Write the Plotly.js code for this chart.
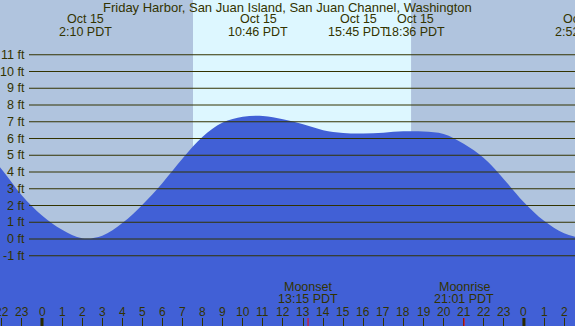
<!DOCTYPE html>
<html>
<head>
<meta charset="utf-8">
<script src="https://cdn.plot.ly/plotly-3.0.1.min.js"></script>
<style>html,body{margin:0;padding:0;background:#B0C4DE;}#chart{width:575px;height:326px;}</style>
</head>
<body>
<div id="chart"></div>
<script>
// ---- data ----
const hours = [-3,-2,-1,0,1,2,3,4,5,6,7,8,9,10,11,12,13,14,15,16,17,18,19,20,21,22,23,24,25,26,27];
const tideFt = [5.5,4.15,2.6,1.4,0.55,0.05,0.2,0.95,2.05,3.35,4.8,6.1,6.95,7.3,7.35,7.15,6.85,6.5,6.33,6.3,6.35,6.43,6.42,6.27,5.68,4.83,3.57,2.2,1.09,0.35,0.02];
const yTicks = [-1,0,1,2,3,4,5,6,7,8,9,10,11];
const hourTicks = [-2,-1,0,1,2,3,4,5,6,7,8,9,10,11,12,13,14,15,16,17,18,19,20,21,22,23,24,25,26];
const midnights = [0,24];
const sunrise = 7.52, sunset = 18.38;
const tideTimes = [2.167,10.767,15.75,18.6,26.87];
const tideDates = ['Oct 15','Oct 15','Oct 15','Oct 15','Oct 16'];
const tideLabels = ['2:10 PDT','10:46 PDT','15:45 PDT','18:36 PDT','2:52 PDT'];
const moonTimes = [13.25,21.017];
const moonNames = ['Moonset','Moonrise'];
const moonLabels = ['13:15 PDT','21:01 PDT'];
const titleText = 'Friday Harbor, San Juan Island, San Juan Channel, Washington';

// ---- layout constants ----
const W = 575, H = 326;
const X0 = -2.092, X1 = 26.544;
const Y0 = -5.194, Y1 = 14.269;
const FONT = 'Liberation Sans, Arial, sans-serif';
const TXT = '#333300';
const py = px => 1 - px / H;              // pixel row -> paper y
const fx = t => (t - X0) / (X1 - X0);     // axis value -> paper x

const traces = [
  {x: hours, y: hours.map(() => -10), mode: 'lines', line: {width: 0, color: 'rgba(0,0,0,0)'}, hoverinfo: 'skip', showlegend: false},
  {x: hours, y: tideFt, mode: 'lines', line: {width: 0, shape: 'spline', smoothing: 1, color: '#4160D6'},
   fill: 'tonexty', fillcolor: '#4160D6', showlegend: false}
];

const shapes = [];
shapes.push({type: 'rect', xref: 'x', yref: 'paper', x0: sunrise, x1: sunset, y0: 0, y1: 1,
  fillcolor: '#DDF7FF', line: {width: 0}, layer: 'below'});
yTicks.forEach(v => shapes.push({type: 'line', xref: 'paper', yref: 'y', x0: 29 / W, x1: 1, y0: v, y1: v,
  line: {color: TXT, width: 1}, layer: 'above'}));
midnights.forEach(t => shapes.push({type: 'line', xref: 'x', yref: 'paper', x0: t, x1: t, y0: 0, y1: 8 / H,
  line: {color: '#2a2a00', width: 3}, layer: 'above'}));
moonTimes.forEach(t => shapes.push({type: 'line', xref: 'x', yref: 'paper', x0: t, x1: t, y0: 0, y1: 8 / H,
  line: {color: '#FF0000', width: 1}, layer: 'above'}));

const ann = [];
const f = (s) => ({family: FONT, size: s, color: TXT});
ann.push({text: titleText, xref: 'paper', yref: 'paper', x: 0.5, y: py(7.3), xanchor: 'center', yanchor: 'middle',
  showarrow: false, font: f(13)});
yTicks.forEach(v => ann.push({text: v + ' ft', xref: 'paper', yref: 'y', x: 27 / W, y: v, xanchor: 'right', yanchor: 'middle',
  showarrow: false, font: f(12.5)}));
tideTimes.forEach((t, i) => {
  ann.push({text: tideDates[i], xref: 'paper', yref: 'paper', x: fx(t), y: py(19.3), xanchor: 'center', yanchor: 'middle', showarrow: false, font: f(12.5)});
  ann.push({text: tideLabels[i], xref: 'paper', yref: 'paper', x: fx(t), y: py(31.7), xanchor: 'center', yanchor: 'middle', showarrow: false, font: f(12.5)});
});
moonTimes.forEach((t, i) => {
  ann.push({text: moonNames[i], xref: 'x', yref: 'paper', x: t, y: py(286.7), xanchor: 'center', yanchor: 'middle', showarrow: false, font: f(12.5)});
  ann.push({text: moonLabels[i], xref: 'x', yref: 'paper', x: t, y: py(299.3), xanchor: 'center', yanchor: 'middle', showarrow: false, font: f(12.5)});
});
hourTicks.forEach(h => ann.push({text: String(((h % 24) + 24) % 24), xref: 'x', yref: 'paper', x: h, y: py(311.7),
  xanchor: 'center', yanchor: 'middle', showarrow: false, font: f(12)}));

const layout = {
  width: W, height: H,
  margin: {l: 0, r: 0, t: 0, b: 0, pad: 0},
  paper_bgcolor: '#B0C4DE', plot_bgcolor: '#B0C4DE',
  showlegend: false,
  xaxis: {range: [X0, X1], showgrid: false, zeroline: false, showline: false, showticklabels: false,
    ticks: 'inside', ticklen: 8, tickwidth: 1, tickcolor: TXT, tick0: 0, dtick: 1, fixedrange: true},
  yaxis: {range: [Y0, Y1], showgrid: false, zeroline: false, showline: false, showticklabels: false, ticks: '', fixedrange: true},
  shapes: shapes,
  annotations: ann
};

Plotly.newPlot('chart', traces, layout, {staticPlot: true, displayModeBar: false});
</script>
</body>
</html>
